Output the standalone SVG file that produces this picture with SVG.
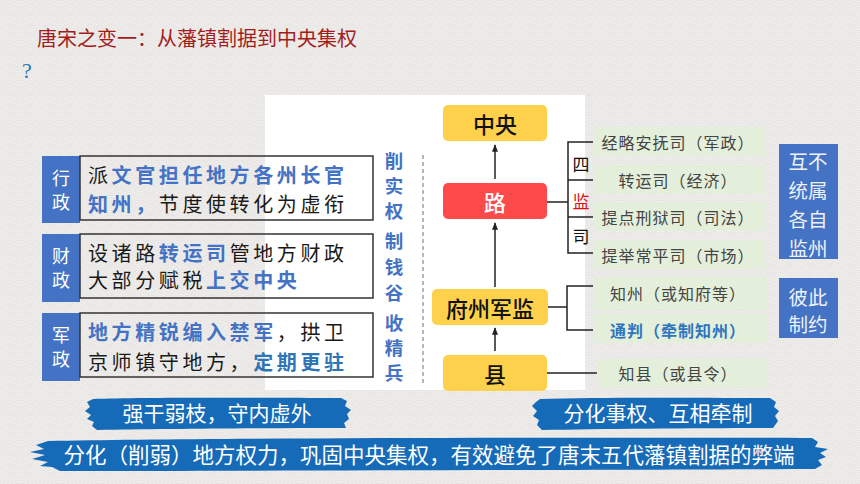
<svg xmlns="http://www.w3.org/2000/svg" xmlns:xlink="http://www.w3.org/1999/xlink" width="860" height="484" viewBox="0 0 860 484">
<style>
text{font-family:"Noto Sans CJK SC","Noto Sans",sans-serif;dominant-baseline:central}
.title{font-size:20px;fill:#a31d1d}
.lbl{fill:#4472c4}
.lbltx{font-size:18px;fill:#ffffff;text-anchor:middle}
.box{fill:none;stroke:#333;stroke-width:1.5}
.tx{font-size:20px;fill:#1a1a1a;letter-spacing:3.6px}
.hl{fill:#4472c4;font-weight:700}
.hl2{fill:#2e75b6;font-weight:700}
.vt{font-size:18.5px;fill:#4472c4;font-weight:700;text-anchor:middle}
.yel{fill:#fdd14b}
.red{fill:#fe4a4a}
.ntx{font-size:22px;fill:#111;text-anchor:middle;font-weight:500}
.grn{fill:#e2efd9;fill-opacity:0.9}
.gtx{font-size:16px;fill:#444;text-anchor:middle;letter-spacing:1px}
.btn{fill:#4472c4}
.btx{font-size:19.5px;fill:#eef2fa;text-anchor:middle}
.ln{fill:none;stroke:#222;stroke-width:1.5}
.arr{fill:none;stroke:#222;stroke-width:1.5;marker-end:url(#ah)}
.ban{fill:#166bb8}
.bantx{font-size:21px;fill:#fff;text-anchor:middle}
</style>
<defs>
<marker id="ah" viewBox="0 0 10 10" refX="9" refY="5" markerWidth="5" markerHeight="5" orient="auto">
<path d="M0,1 L10,5 L0,9 Z" fill="#222"/>
</marker>
<g id="sc">
<circle r="10" fill="#efeeec" stroke="#e3e1de" stroke-width="0.8"/>
<circle r="7.5" fill="none" stroke="#e3e1de" stroke-width="0.8"/>
<circle r="5" fill="none" stroke="#e3e1de" stroke-width="0.8"/>
<circle r="2.5" fill="none" stroke="#e3e1de" stroke-width="0.8"/>
</g>
<pattern id="wave" width="20" height="10" patternUnits="userSpaceOnUse">
<rect width="20" height="10" fill="#efeeec"/>
<use xlink:href="#sc" x="10" y="-5"/>
<use xlink:href="#sc" x="0" y="0"/>
<use xlink:href="#sc" x="20" y="0"/>
<use xlink:href="#sc" x="-10" y="5"/>
<use xlink:href="#sc" x="10" y="5"/>
<use xlink:href="#sc" x="30" y="5"/>
<use xlink:href="#sc" x="0" y="10"/>
<use xlink:href="#sc" x="20" y="10"/>
<use xlink:href="#sc" x="10" y="15"/>
</pattern>
</defs>

<rect width="860" height="484" fill="url(#wave)"/>
<rect x="265" y="95" width="320" height="295" fill="#ffffff"/>

<text class="title" x="37" y="37">唐宋之变一：从藩镇割据到中央集权</text>
<text x="22" y="70" style="font-family:'Liberation Serif',serif;font-size:22px;fill:#2e75b6">?</text>

<g id="xingzheng">
<rect class="lbl" x="42" y="156" width="38" height="67"/>
<text class="lbltx"><tspan x="61" y="177">行</tspan><tspan x="61" y="201">政</tspan></text>
<rect class="box" x="80" y="156" width="293" height="64"/>
<text class="tx"><tspan x="88" y="173.5">派</tspan><tspan class="hl">文官担任地方各州长官</tspan><tspan x="88" y="202.5" class="hl">知州，</tspan><tspan>节度使转化为虚衔</tspan></text>
</g>
<g id="caizheng">
<rect class="lbl" x="42" y="234" width="38" height="68"/>
<text class="lbltx"><tspan x="61" y="255">财</tspan><tspan x="61" y="279">政</tspan></text>
<rect class="box" x="80" y="234" width="293" height="64"/>
<text class="tx"><tspan x="88" y="251.5">设诸路</tspan><tspan class="hl">转运司</tspan><tspan>管地方财政</tspan><tspan x="88" y="278.5">大部分赋税</tspan><tspan class="hl">上交中央</tspan></text>
</g>
<g id="junzheng">
<rect class="lbl" x="42" y="313" width="38" height="68"/>
<text class="lbltx"><tspan x="61" y="334">军</tspan><tspan x="61" y="358">政</tspan></text>
<rect class="box" x="80" y="313" width="293" height="64"/>
<text class="tx"><tspan x="88" y="331" class="hl">地方精锐编入禁军</tspan><tspan>，拱卫</tspan><tspan x="88" y="361">京师镇守地方，</tspan><tspan class="hl2">定期更驻</tspan></text>
</g>

<g id="vertical-text">
<text class="vt"><tspan x="394" y="160">削</tspan><tspan x="394" y="185">实</tspan><tspan x="394" y="210">权</tspan><tspan x="394" y="240">制</tspan><tspan x="394" y="266">钱</tspan><tspan x="394" y="292">谷</tspan><tspan x="394" y="322">收</tspan><tspan x="394" y="347">精</tspan><tspan x="394" y="372">兵</tspan></text>
</g>

<g id="connectors">
<line x1="423" y1="155" x2="423" y2="384" stroke="#888" stroke-width="1.2" stroke-dasharray="4 3"/>
<line class="arr" x1="495" y1="179" x2="495" y2="145"/>
<line class="arr" x1="495" y1="287" x2="495" y2="223"/>
<line class="arr" x1="495" y1="351" x2="495" y2="328"/>
<path class="ln" d="M547 202 H568 M593 142 H568 V253 H593 M568 180 H593 M568 217 H593"/>
<path class="ln" d="M548 307 H567 M593 286 H567 V330 H593"/>
<path class="ln" d="M547 373 H597"/>
</g>

<g id="zhongyang">
<rect class="yel" x="443" y="105" width="104" height="36" rx="5"/>
<text class="ntx" x="495" y="123">中央</text>
</g>
<g id="lu">
<rect class="red" x="443" y="183" width="104" height="36" rx="5"/>
<text class="ntx" x="495" y="201" style="fill:#fff">路</text>
</g>
<g id="fuzhou">
<rect class="yel" x="432" y="289" width="116" height="36" rx="5"/>
<text class="ntx" x="490" y="307">府州军监</text>
</g>
<g id="xian">
<rect class="yel" x="443" y="355" width="104" height="36" rx="5"/>
<text class="ntx" x="495" y="373">县</text>
</g>

<g id="sijiansi">
<text x="581" y="163" style="font-size:17px;fill:#111;text-anchor:middle">四</text>
<text x="581" y="200" style="font-size:17px;fill:#e01010;text-anchor:middle">监</text>
<text x="581" y="235" style="font-size:17px;fill:#111;text-anchor:middle">司</text>
</g>

<g id="jinglue">
<rect class="grn" x="593" y="127" width="173" height="29"/>
<text class="gtx" x="678" y="142">经略安抚司（军政）</text>
</g>
<g id="zhuanyun">
<rect class="grn" x="593" y="165" width="173" height="29"/>
<text class="gtx" x="678" y="180">转运司（经济）</text>
</g>
<g id="tidian">
<rect class="grn" x="593" y="202" width="173" height="29"/>
<text class="gtx" x="678" y="217">提点刑狱司（司法）</text>
</g>
<g id="tiju">
<rect class="grn" x="593" y="240" width="173" height="29"/>
<text class="gtx" x="678" y="255">提举常平司（市场）</text>
</g>
<g id="hubu">
<rect class="btn" x="779" y="144" width="59" height="115"/>
<text class="btx"><tspan x="808" y="160">互不</tspan><tspan x="808" y="189">统属</tspan><tspan x="808" y="218">各自</tspan><tspan x="808" y="247">监州</tspan></text>
</g>

<g id="zhizhou">
<rect class="grn" x="593" y="277" width="174" height="33"/>
<text class="gtx" x="678" y="293">知州（或知府等）</text>
</g>
<g id="tongpan">
<rect class="grn" x="593" y="314" width="174" height="29"/>
<text class="gtx" x="678" y="330" style="fill:#2e75c0;font-weight:700">通判（牵制知州）</text>
</g>
<g id="bici">
<rect class="btn" x="779" y="278" width="59" height="60"/>
<text class="btx"><tspan x="808" y="296">彼此</tspan><tspan x="808" y="323">制约</tspan></text>
</g>
<g id="zhixian">
<rect class="grn" x="597" y="359" width="170" height="29"/>
<text class="gtx" x="678" y="373">知县（或县令）</text>
</g>

<g id="banner1">
<path class="ban" d="M93 399 C150 397 260 398 341 398 L347 401 L345 406 L351 410 L347 414 L349 419 L344 423 L346 428 C260 428 160 429 97 430 L92 426 L94 422 L87 419 L91 415 L85 411 L90 407 L87 402 Z"/>
<text class="bantx" x="217" y="412">强干弱枝，守内虚外</text>
</g>
<g id="banner2">
<path class="ban" d="M540 399 C600 397 700 398 770 398 L776 402 L774 407 L779 411 L775 416 L778 421 L773 428 C700 428 600 429 542 430 L537 425 L539 420 L533 416 L537 411 L532 406 L536 402 Z"/>
<text class="bantx" x="658" y="412">分化事权、互相牵制</text>
</g>
<g id="banner3">
<path class="ban" d="M48 441 C200 438 600 437 812 438 L818 442 L815 447 L828 449 L820 453 L826 457 L818 460 L822 465 L815 469 C600 470 200 471 60 471 L52 467 L40 466 L48 462 L32 459 L45 455 L30 452 L44 449 L36 445 Z"/>
<text class="bantx" x="429" y="453" style="font-size:21.5px">分化（削弱）地方权力，巩固中央集权，有效避免了唐末五代藩镇割据的弊端</text>
</g>
</svg>
